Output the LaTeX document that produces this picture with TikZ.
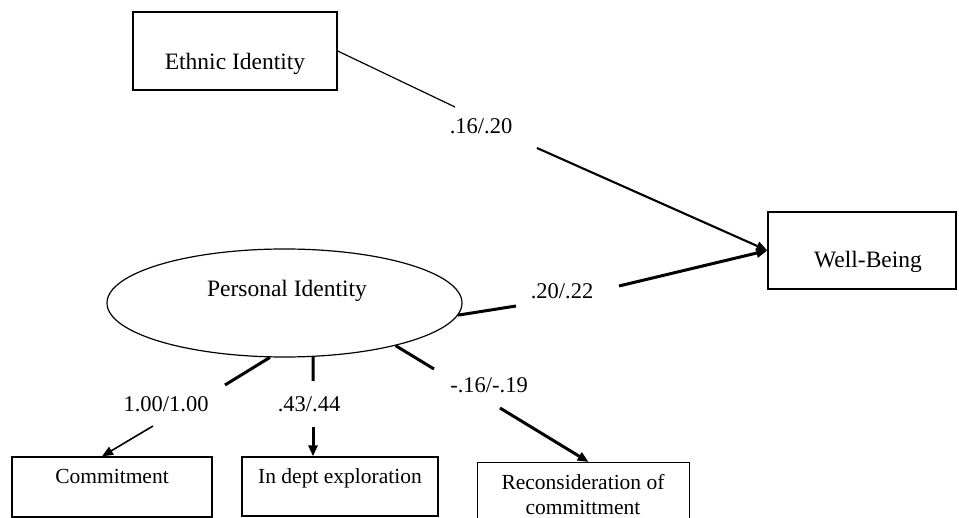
\documentclass[tikz,border=0pt]{standalone}
\usepackage{fontspec}
\setmainfont{Liberation Serif}
\usetikzlibrary{arrows.meta,shapes.geometric}
\begin{document}
\begin{tikzpicture}[x=1pt,y=-1pt,
  box/.style={draw, line width=1.3pt, inner sep=0pt, anchor=base, align=center},
  mainfont/.style={font=\fontsize{23.5}{26}\selectfont},
  smallfont/.style={font=\fontsize{21.5}{25.5}\selectfont},
  coef/.style={anchor=base, inner sep=0pt, font=\fontsize{22.5}{25}\selectfont},
  thinline/.style={line width=1.2pt},
  midline/.style={line width=2.1pt},
  heavyline/.style={line width=3pt},
  tip/.style={-{Triangle[length=11pt,width=9pt]}}
]
\useasboundingbox (0,0) rectangle (959,518);
\fill[white] (0,0) rectangle (959,518);

% boxes
\node[box, mainfont, minimum width=204pt, text height=58pt, text depth=20pt] (ethnic) at (235,70) {Ethnic Identity};
\node[box, mainfont, minimum width=188pt, text height=56pt, text depth=21pt] (wb) at (862,268) {\hspace*{12pt}Well-Being};
\node[box, smallfont, minimum width=200pt, text height=27pt, text depth=33pt] (comm) at (112,484) {Commitment};
\node[box, smallfont, minimum width=196pt, text height=27pt, text depth=32pt] (indept) at (340,484) {In dept exploration};
\node[draw, line width=1.3pt, inner sep=0pt, minimum width=212pt, minimum height=80pt, anchor=north west] (recon) at (477,462) {};
\node[smallfont, anchor=north, inner sep=0pt, align=center] (recontext) at (583,474) {Reconsideration of\\committment};

% latent variable
\node[draw, ellipse, thinline, minimum width=355pt, minimum height=108pt, inner sep=0pt] (pers) at (284.5,303) {};
\node[mainfont, anchor=base, inner sep=0pt] (perstext) at (287,297) {Personal Identity};

% coefficient labels
\node[coef] (l1) at (481,134) {.16/.20};
\node[coef] (l2) at (562,299) {.20/.22};
\node[coef] (l3) at (166,412) {1.00/1.00};
\node[coef] (l4) at (309,412) {.43/.44};
\node[coef] (l5) at (489,393) {-.16/-.19};

% gap ends around the labels
\coordinate (g1a) at (455,107);
\coordinate (g1b) at (537,148);
\coordinate (g2a) at (516,306);
\coordinate (g2b) at (619,286);
\coordinate (g3a) at (225,385);
\coordinate (g3b) at (153,426);
\coordinate (g4a) at (313,381);
\coordinate (g4b) at (313,427);
\coordinate (g5a) at (434,369);
\coordinate (g5b) at (500,408);

% connectors
\draw[thinline] (ethnic.east) -- (g1a);
\draw[midline, tip] (g1b) -- (wb.west);

\draw[heavyline] (pers.-4) -- (g2a);
\draw[heavyline, tip] (g2b) -- (wb.west);

\draw[heavyline] (pers.-105) -- (g3a);
\draw[line width=1.6pt, tip] (g3b) -- ([xshift=-10pt]comm.north);

\draw[heavyline] (pers.-62) -- (g4a);
\draw[heavyline, tip] (g4b) -- ([xshift=-27pt]indept.north);

\draw[heavyline] (pers.-21) -- (g5a);
\draw[heavyline, tip] (g5b) -- ([xshift=5pt]recon.north);
\end{tikzpicture}
\end{document}
